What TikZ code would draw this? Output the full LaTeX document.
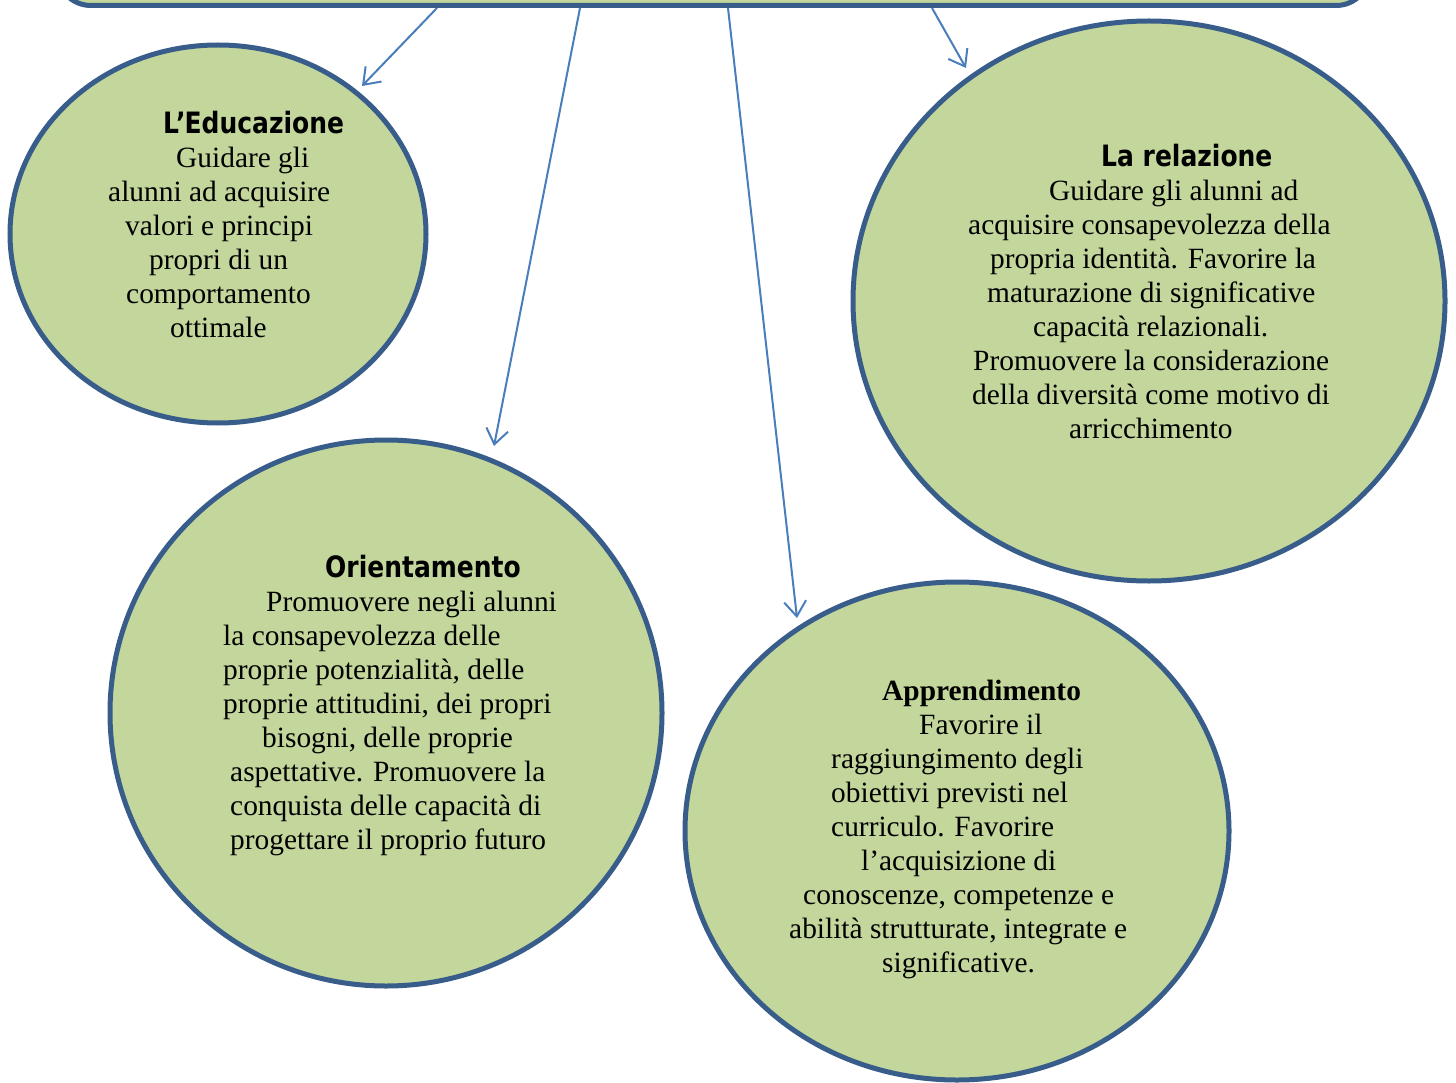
\documentclass[tikz,border=0pt]{standalone}
\usepackage{fontspec}
\setmainfont{Liberation Serif}
\newfontfamily\TitleSans[FakeStretch=0.85]{DejaVu Sans Bold}
\usetikzlibrary{shapes.geometric,arrows.meta}
\definecolor{BubbleClr}{HTML}{C3D69B}
\definecolor{EdgeClr}{HTML}{385D8A}
\definecolor{LinkClr}{HTML}{4A7EBB}
\tikzset{
  bubble/.style={ellipse,draw=EdgeClr,fill=BubbleClr,line width=5pt,inner sep=0pt},
  topbox/.style={rectangle,rounded corners=34pt,draw=EdgeClr,fill=BubbleClr,line width=5pt,inner sep=0pt},
  link/.style={draw=LinkClr,line width=2pt,-{Straight Barb[length=15pt,width=22pt,line width=2pt]}},
  blurb/.style={anchor=north west,align=left,inner sep=0pt,font=\fontsize{29.4}{34}\selectfont},
}
\newcommand{\ttl}[1]{{\TitleSans #1}}
\newcommand{\ind}[1]{\hspace*{#1pt}}

\begin{document}
\begin{tikzpicture}[x=1pt,y=-1pt]
\clip (0,0) rectangle (1456,1083);

\node[topbox,minimum width=1313pt,minimum height=120pt,anchor=south] (tema) at (713.5,8) {};

\node[bubble,minimum width=416pt,minimum height=378pt] (educ) at (218,234) {};
\node[bubble,minimum width=592pt,minimum height=560pt] (relaz) at (1149,301) {};
\node[bubble,minimum width=552pt,minimum height=546pt] (orient) at (386,713) {};
\node[bubble,minimum width=544pt,minimum height=498pt] (appr) at (957,831) {};

% arrow tips
\coordinate (educ-tip) at (362,86);
\coordinate (orient-tip) at (494,446);
\coordinate (appr-tip) at (797,618);
\coordinate (relaz-tip) at (966,68);

\draw[link] ([xshift=-276.5pt]tema.south) -- (educ-tip);
\draw[link] ([xshift=-133.5pt]tema.south) -- (orient-tip);
\draw[link] ([xshift=14.5pt]tema.south) -- (appr-tip);
\draw[link] ([xshift=218.5pt]tema.south) -- (relaz-tip);

\node[blurb] (educ-txt) at (108,111) {%
\ind{55}\ttl{L\kern-3pt’\kern-1ptEducazione}\\
\ind{68}Guidare gli\\
alunni ad acquisire\\
\ind{17}valori e principi\\
\ind{41}propri di un\\
\ind{18}comportamento\\
\ind{62}ottimale};

\node[blurb] (relaz-txt) at (968,144) {%
\ind{133}\ttl{La relazione}\\
\ind{81}Guidare gli alunni ad\\
acquisire consapevolezza della\\
\ind{22}propria identità. Favorire la\\
\ind{19}maturazione di significative\\
\ind{65}capacità relazionali.\\
\ind{5}Promuovere la considerazione\\
\ind{4}della diversità come motivo di\\
\ind{101}arricchimento};

\node[blurb] (orient-txt) at (223,555) {%
\ind{102}\ttl{Orientamento}\\
\ind{43}Promuovere negli alunni\\
la consapevolezza delle\\
proprie potenzialità, delle\\
proprie attitudini, dei propri\\
\ind{39}bisogni, delle proprie\\
\ind{7}aspettative. Promuovere la\\
\ind{7}conquista delle capacità di\\
\ind{7}progettare il proprio futuro};

\node[blurb] (appr-txt) at (789,680) {%
\ind{93}\textbf{Apprendimento}\\
\ind{130}Favorire il\\
\ind{42}raggiungimento degli\\
\ind{42}obiettivi previsti nel\\
\ind{42}curriculo. Favorire\\
\ind{72}l’acquisizione di\\
\ind{14}conoscenze, competenze e\\
abilità strutturate, integrate e\\
\ind{93}significative.};

\end{tikzpicture}
\end{document}
